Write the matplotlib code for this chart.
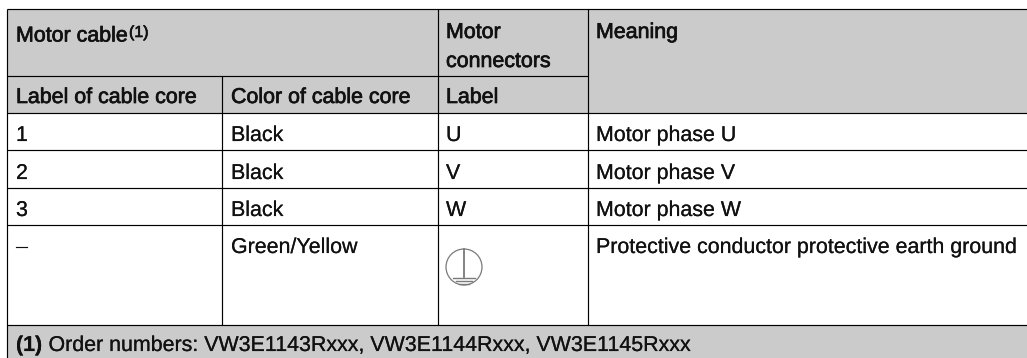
import matplotlib
matplotlib.use("Agg")
import matplotlib.pyplot as plt
import matplotlib.patheffects as pe
from matplotlib.patches import Rectangle, Circle

W, H = 1027, 358
LEFT, RIGHT, TOP, BOTTOM = 7, 1027, 9, 358
COLS = [7, 222, 438, 587.5]
ROWS = [9, 76, 113, 150, 188, 225, 324.5]
HEADER_GRAY = "#cbcbcb"
LINE = "#000000"
TEXT = "#111111"

header_one = ["Motor cable", "Motor", "connectors", "Meaning"]
header_two = ["Label of cable core", "Color of cable core", "Label"]
col_label = ["1", "2", "3", "–"]
col_color = ["Black", "Black", "Black", "Green/Yellow"]
col_conn = ["U", "V", "W", ""]
col_meaning = ["Motor phase U", "Motor phase V", "Motor phase W",
               "Protective conductor protective earth ground"]
footnote_bold = "(1)"
footnote_text = "Order numbers: VW3E1143Rxxx, VW3E1144Rxxx, VW3E1145Rxxx"

plt.rcParams["font.family"] = ["Liberation Sans", "DejaVu Sans"]
plt.rcParams["text.hinting"] = "no_hinting"
plt.rcParams["text.hinting_factor"] = 1
fig = plt.figure(figsize=(W / 100, H / 100), dpi=100)
ax = fig.add_axes([0, 0, 1, 1])
ax.set_xlim(0, W)
ax.set_ylim(H, 0)
ax.axis("off")

ax.add_patch(Rectangle((LEFT, ROWS[0]), RIGHT - LEFT, ROWS[2] - ROWS[0], fc=HEADER_GRAY, ec="none"))
ax.add_patch(Rectangle((LEFT, ROWS[6]), RIGHT - LEFT, BOTTOM - ROWS[6], fc=HEADER_GRAY, ec="none"))

lw = 0.85
def h(y, x0=LEFT, x1=RIGHT):
    ax.plot([x0, x1], [y, y], color=LINE, lw=lw, solid_capstyle="butt")
def v(x, y0, y1):
    ax.plot([x, x], [y0, y1], color=LINE, lw=lw, solid_capstyle="butt")

for r in (ROWS[0], ROWS[2], ROWS[3], ROWS[4], ROWS[5], ROWS[6]):
    h(r)
h(ROWS[1], COLS[0], COLS[3])
v(COLS[0], ROWS[0], BOTTOM)
v(COLS[1], ROWS[1], ROWS[6])
v(COLS[2], ROWS[0], ROWS[6])
v(COLS[3], ROWS[0], ROWS[6])

FS = 15.4
BODY = [pe.withStroke(linewidth=0.12, foreground=TEXT)]
EMBOLDEN = [pe.withStroke(linewidth=0.5, foreground=TEXT)]

def t(x, y, s, bold=False, fs=FS):
    txt = ax.text(x, y, s, fontsize=fs, color=TEXT, va="baseline",
                  fontweight="bold" if bold else "normal")
    txt.set_path_effects(BODY)
    return txt

def ht(x, y, s, fs=FS):
    # the source headers are lightly emboldened rather than true bold
    t(x, y, s, fs=fs).set_path_effects(EMBOLDEN)

ht(16, 41.5, header_one[0])
ht(129, 37, "(1)", fs=11.5)
ht(446, 38, header_one[1])
ht(446, 67, header_one[2])
ht(596, 38, header_one[3])
ht(16, 103, header_two[0])
ht(231, 103, header_two[1])
ht(446, 103, header_two[2])

row_base = [141, 179, 216, 253]
for i, b in enumerate(row_base):
    t(16, b, col_label[i])
    t(231, b, col_color[i])
    if col_conn[i]:
        t(446, b, col_conn[i])
    t(596, b, col_meaning[i])

# protective earth symbol
GS = "#7a7a7a"
ax.add_patch(Circle((464, 267), 18, fc="none", ec=GS, lw=0.9))
ax.plot([464, 464], [249, 277], color=GS, lw=1.3)
ax.plot([453, 475], [277.5, 277.5], color=GS, lw=1.0)
ax.plot([456, 472], [280.5, 280.5], color=GS, lw=1.0)
ax.plot([459, 469], [283.5, 283.5], color=GS, lw=1.0)

t(16, 351, footnote_bold, bold=True)
t(48.5, 351, footnote_text)

fig.savefig("out.png", dpi=100, facecolor="white")
